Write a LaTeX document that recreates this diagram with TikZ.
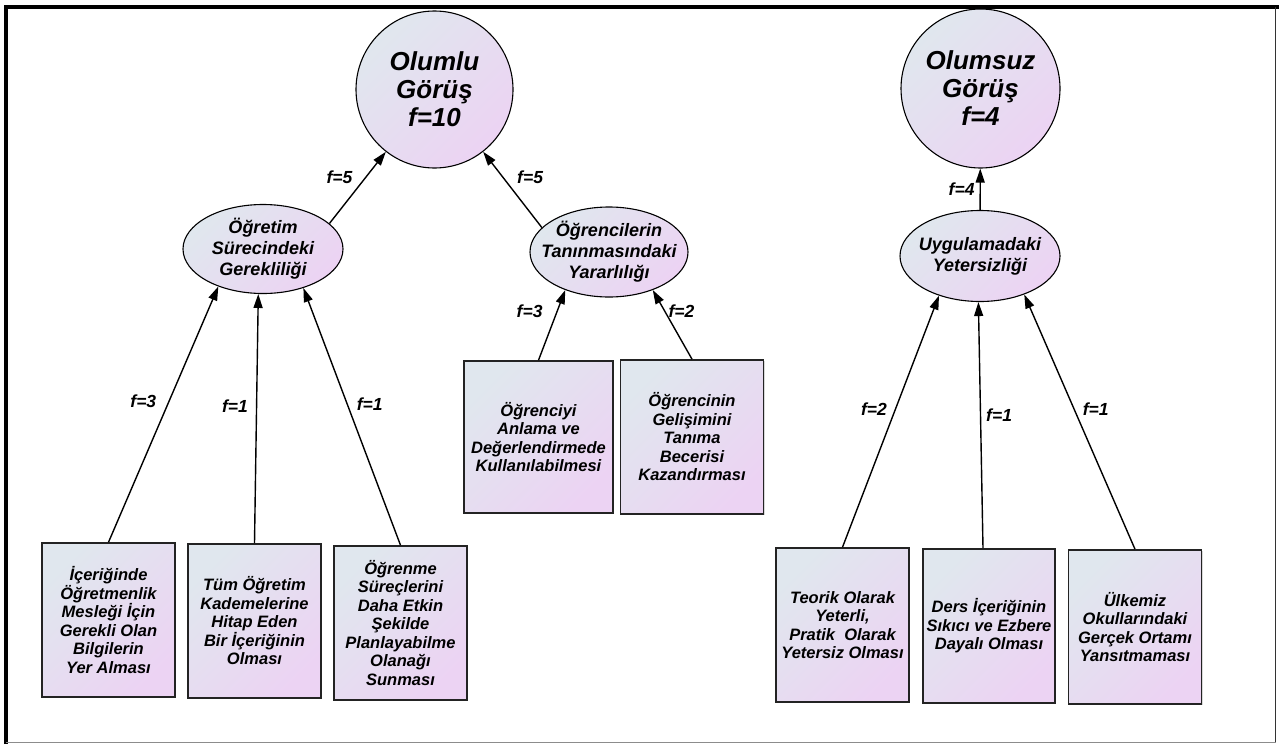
\documentclass[tikz,border=0pt]{standalone}
\usepackage{fontspec}
\setmainfont{Liberation Sans}
\usepackage{tikz}
\usetikzlibrary{shapes,arrows.meta,shadows}

\definecolor{shadeA}{RGB}{224,231,238}
\definecolor{shadeB}{RGB}{236,211,243}
\definecolor{edgegray}{RGB}{35,35,35}

\tikzstyle{arrow} = [line width=1.4pt,-{Triangle[length=14pt,width=9pt]}]
\tikzstyle{fill grad} = [top color=shadeA, bottom color=shadeB, shading angle=45]
\tikzstyle{topic} = [circle, draw=black, line width=1.1pt, fill grad, minimum size=157pt, inner sep=0pt, align=center, font=\fontsize{26}{28}\selectfont\bfseries\itshape]
\tikzstyle{theme} = [ellipse, draw=black, line width=1.1pt, fill grad, minimum width=160pt, minimum height=89pt, inner sep=-20pt, align=center, font=\fontsize{18}{21}\selectfont\bfseries\itshape]
\tikzstyle{reason} = [rectangle, draw=edgegray, line width=1.6pt, fill grad, minimum width=133pt, minimum height=154pt, align=center, font=\fontsize{16.5}{18.5}\selectfont\bfseries\itshape, drop shadow={shadow xshift=1.2pt, shadow yshift=-1.2pt, opacity=0.3}]
\tikzstyle{freq} = [font=\fontsize{17.5}{20}\selectfont\bfseries\itshape, inner sep=3pt]

\begin{document}
\begin{tikzpicture}[x=1pt, y=-1pt, node distance=146pt]

        \useasboundingbox (0,0) rectangle (1279,744);
        \draw [line width=4pt] (6,744) -- (6,7) -- (1279,7);
        \draw [line width=1pt, black!80] (1275.5,7) -- (1275.5,742.5);
        \draw [line width=1pt, black!45] (6,742.5) -- (1276,742.5);

        \node (olumlu) [topic] at (434.5,89.5) {Olumlu\\Görüş\\f=10};
        \node (olumsuz) [topic, minimum size=159pt] at (980.5,88.5) {Olumsuz\\Görüş\\f=4};

        \node (gerek) [theme] at (263,249) {Öğretim\\Sürecindeki\\Gerekliliği};
        \node (yarar) [theme, minimum width=158pt, minimum height=90pt] at (609,252) {Öğrencilerin\\Tanınmasındaki\\Yararlılığı};
        \node (yeter) [theme, minimum height=91pt] at (980,256) {Uygulamadaki\\Yetersizliği};

        \node (icerik) [reason] at (108.5,620) {İçeriğinde\\Öğretmenlik\\Mesleği İçin\\Gerekli Olan\\Bilgilerin\\Yer Alması};
        \node (kademe) [reason, right of=icerik, yshift=-1pt] {Tüm Öğretim\\Kademelerine\\Hitap Eden\\Bir İçeriğinin\\Olması};
        \node (planla) [reason, right of=kademe, yshift=-2pt] {Öğrenme\\Süreçlerini\\Daha Etkin\\Şekilde\\Planlayabilme\\Olanağı\\Sunması};

        \node (anlama) [reason, minimum width=149pt, minimum height=152pt] at (538.5,437) {Öğrenciyi\\Anlama ve\\Değerlendirmede\\Kullanılabilmesi};
        \node (tanima) [reason, minimum width=143pt, right of=anlama, xshift=7.5pt] {Öğrencinin\\Gelişimini\\Tanıma\\Becerisi\\Kazandırması};

        \node (teorik) [reason] at (842.5,625) {Teorik Olarak\\Yeterli,\\Pratik~ Olarak\\Yetersiz Olması};
        \node (ezber) [reason, inner xsep=0pt, minimum width=132pt, right of=teorik, xshift=0.5pt, yshift=-1pt] {Ders İçeriğinin\\Sıkıcı ve Ezbere\\Dayalı Olması};
        \node (ulke) [reason, right of=ezber, yshift=-1pt] {Ülkemiz\\Okullarındaki\\Gerçek Ortamı\\Yansıtmaması};

        \draw [arrow] (gerek.21) -- node[freq, left=10pt, pos=0.65] {f=5} (olumlu.232);
        \draw [arrow] (yarar.160) -- node[freq, right=11pt, pos=0.67] {f=5} (olumlu.308);
        \draw [arrow] (yeter) -- node[freq, left=2pt] {f=4} (olumsuz);

        \draw [arrow] (icerik.north) -- node[freq, left=9pt, pos=0.55] {f=3} (gerek.220);
        \draw [arrow] (kademe.north) -- node[freq, left=5pt, pos=0.55] {f=1} (gerek.264);
        \draw [arrow] (planla.north) -- node[freq, right=6pt, pos=0.55] {f=1} (gerek.316);

        \draw [arrow] (anlama.north) -- node[freq, left=11pt, pos=0.7] {f=3} (yarar.221);
        \draw [arrow] (tanima.north) -- node[freq, right, pos=0.69] {f=2} (yarar.319);

        \draw [arrow] (teorik.north) -- node[freq, left=5pt, pos=0.55] {f=2} (yeter.224);
        \draw [arrow] ([xshift=-6pt]ezber.north) -- node[freq, right=2pt, pos=0.54] {f=1} (yeter.268);
        \draw [arrow] (ulke.north) -- node[freq, right=5pt, pos=0.55] {f=1} (yeter.319);

\end{tikzpicture}
\end{document}
